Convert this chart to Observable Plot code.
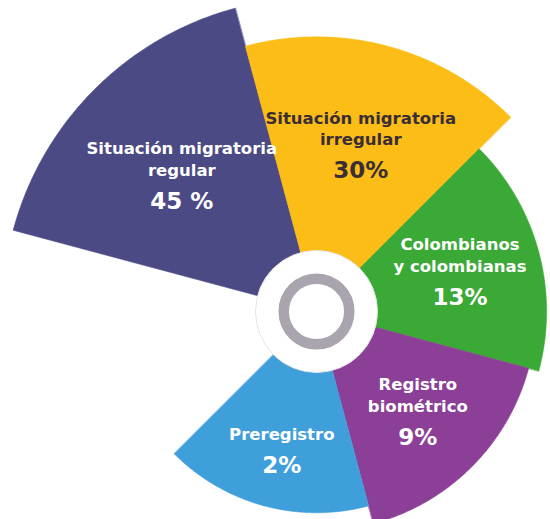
<!DOCTYPE html>
<html>
<head>
<meta charset="utf-8">
<script src="https://cdn.jsdelivr.net/npm/d3@7"></script>
<script src="https://cdn.jsdelivr.net/npm/@observablehq/plot@0.6"></script>
<style>
  html, body { margin: 0; padding: 0; background: #fff; }
  #chart svg { display: block; }
</style>
</head>
<body>
<div id="chart"></div>
<script>
// ---- data ----
const categories = [
  "Situación migratoria regular",
  "Situación migratoria irregular",
  "Colombianos y colombianas",
  "Registro biométrico",
  "Preregistro"
];
const labelLines = [
  "Situación migratoria\nregular",
  "Situación migratoria\nirregular",
  "Colombianos\ny colombianas",
  "Registro\nbiométrico",
  "Preregistro"
];
const values = [45, 30, 13, 9, 2];
const percentLabels = ["45 %", "30%", "13%", "9%", "2%"];

// ---- styles ----
const colors = ["#4b4a84", "#fbbd16", "#3aa935", "#8c3f97", "#3f9fdb"];
const textColors = ["#ffffff", "#3a2d38", "#ffffff", "#ffffff", "#ffffff"];

// ---- layout ----
const W = 550, H = 519, cx = 316, cy = 311;
const startAngle = -75, step = 60;   // degrees, clockwise from 12 o'clock
const innerR = 61;
const radius = d3.scaleLinear().domain([0, 45]).range([196, 314]);
const rad = a => a * Math.PI / 180;

// sector polygons derived from the data
const sectors = categories.flatMap((c, i) => {
  const a0 = startAngle + i * step, a1 = a0 + step, R = radius(values[i]);
  const pts = [{category: c, x: 0, y: 0}];
  for (let a = a0; a <= a1 + 1e-9; a += 0.5) {
    pts.push({category: c, x: R * Math.sin(rad(a)), y: R * Math.cos(rad(a))});
  }
  return pts;
});

// label anchors derived from the data
const labelData = categories.map((c, i) => {
  const mid = rad(startAngle + (i + 0.5) * step);
  const lr = (radius(values[i]) + innerR) / 2 + 3;
  return {category: c, name: labelLines[i], pct: percentLabels[i],
          x: lr * Math.sin(mid), y: lr * Math.cos(mid), tc: textColors[i]};
});

const font = "'DejaVu Sans', 'Open Sans', sans-serif";
const textMarks = [...new Set(textColors)].flatMap(tc => {
  const d = labelData.filter(l => l.tc === tc);
  return [
    Plot.text(d, {x: "x", y: "y", text: "name", fill: tc, fontFamily: font, fontWeight: 700,
                  fontSize: 16.5, lineHeight: 1.33, lineAnchor: "bottom", dy: -1}),
    Plot.text(d, {x: "x", y: "y", text: "pct", fill: tc, fontFamily: font, fontWeight: 700,
                  fontSize: 23, lineAnchor: "bottom", dy: 32})
  ];
});

const center = [{x: 0, y: 0}];

const chart = Plot.plot({
  width: W,
  height: H,
  margin: 0,
  x: {domain: [-cx, W - cx], axis: null},
  y: {domain: [cy - H, cy], axis: null},
  color: {domain: categories, range: colors},
  style: {background: "#fff"},
  marks: [
    Plot.line(sectors, {x: "x", y: "y", z: "category", fill: "category", stroke: "category",
                        strokeWidth: 0.6, curve: "linear-closed"}),
    Plot.dot(center, {x: "x", y: "y", r: innerR, fill: "white", stroke: "#e4e4e4", strokeWidth: 1}),
    Plot.dot(center, {x: "x", y: "y", r: 32.8, fill: "none", stroke: "#aaa4ae", strokeWidth: 10.5}),
    ...textMarks
  ]
});
document.getElementById("chart").appendChild(chart);
</script>
</body>
</html>
